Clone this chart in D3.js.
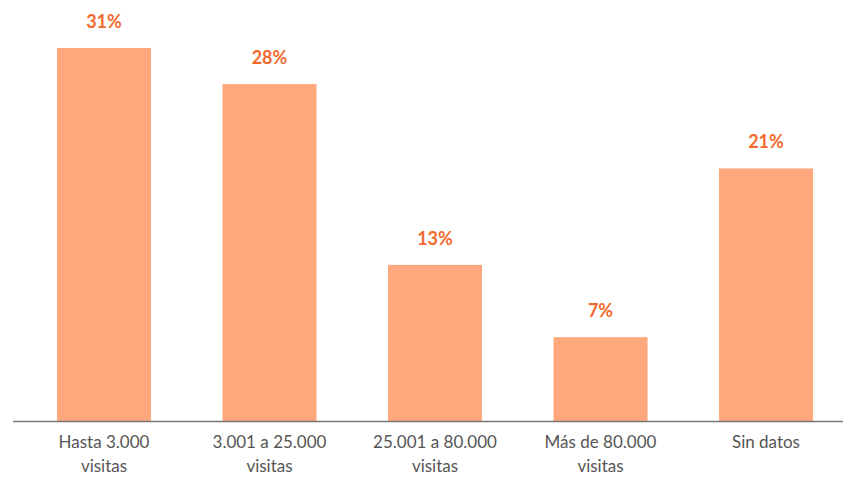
<!DOCTYPE html>
<html><head><meta charset="utf-8">
<script src="https://cdn.jsdelivr.net/npm/d3@7"></script>
<style>body{margin:0;background:#fff}svg{display:block}</style>
</head><body>
<svg id="c" width="843" height="479"></svg>
<script>
const categories = ["Hasta 3.000|visitas", "3.001 a 25.000|visitas", "25.001 a 80.000|visitas", "Más de 80.000|visitas", "Sin datos"];
const values = [31, 28, 13, 7, 21];
const valueLabels = ["31%", "28%", "13%", "7%", "21%"];

const svg = d3.select("#c");
const x = d3.scaleBand().domain(categories).range([21.25, 848.75]).paddingInner(0.432).paddingOuter(0.216);
const y = d3.scaleLinear().domain([0, 31]).range([421.5, 48]);

svg.selectAll("rect.bar").data(values).join("rect")
  .attr("class", "bar")
  .attr("x", (d, i) => x(categories[i]))
  .attr("width", x.bandwidth())
  .attr("y", d => y(d))
  .attr("height", d => y(0) - y(d))
  .attr("fill", "#ffa77d");

svg.selectAll("text.val").data(values).join("text")
  .attr("class", "val")
  .attr("x", (d, i) => x(categories[i]) + x.bandwidth() / 2)
  .attr("y", d => y(d) - 20)
  .attr("text-anchor", "middle")
  .attr("font-family", "Lato, sans-serif")
  .attr("font-weight", "bold")
  .attr("font-size", 18)
  .attr("fill", "#f26a2e")
  .text((d, i) => valueLabels[i]);

const axis = d3.axisBottom(x).tickSize(0).tickFormat("");
const g = svg.append("g").attr("transform", "translate(0,421.5)").call(axis);
g.select(".domain").attr("d", "M13,0H843").attr("stroke", "#777").attr("stroke-width", 1.5);

categories.forEach(c => {
  const lines = c.split("|");
  const t = svg.append("text")
    .attr("x", x(c) + x.bandwidth() / 2)
    .attr("y", 448)
    .attr("text-anchor", "middle")
    .attr("font-family", "Lato, sans-serif")
    .attr("font-size", 17)
    .attr("fill", "#555");
  lines.forEach((l, i) => t.append("tspan").attr("x", x(c) + x.bandwidth() / 2).attr("dy", i ? 24 : 0).text(l));
});
</script>
</body></html>
